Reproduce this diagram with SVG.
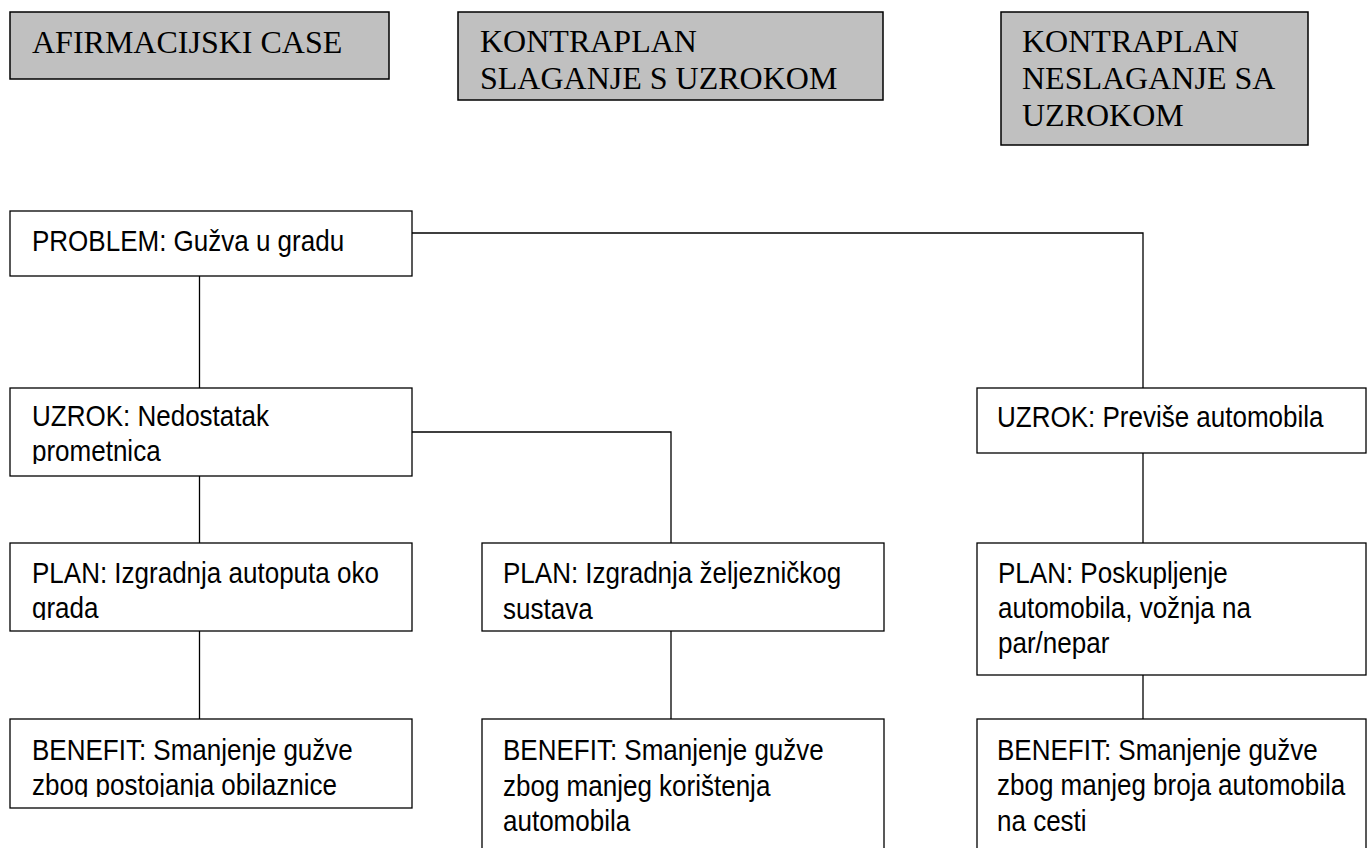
<svg xmlns="http://www.w3.org/2000/svg" width="1369" height="848" viewBox="0 0 1369 848">
  <style>
    .hdr { fill: #c0c0c0; stroke: #000; stroke-width: 1.5; }
    .box { fill: #fff; stroke: #000; stroke-width: 1.3; }
    .serif { font-family: "Liberation Serif", "Times New Roman", serif; font-size: 32px; fill: #000; }
    .sans { font-family: "Liberation Sans", Arial, sans-serif; font-size: 30px; fill: #000; }
    .conn { fill: none; stroke: #000; stroke-width: 1.3; }
  </style>
  <defs>
    <clipPath id="clipUzrok1"><rect x="10" y="388" width="402" height="76"/></clipPath>
    <clipPath id="clipPlan1"><rect x="10" y="543" width="402" height="77"/></clipPath>
    <clipPath id="clipBenefit1"><rect x="10" y="719" width="402" height="78"/></clipPath>
  </defs>
  <rect width="1369" height="848" fill="#fff"/>

  <g id="connectors">
    <polyline class="conn" points="412,233 1143,233 1143,388"/>
    <line class="conn" x1="199.5" y1="276" x2="199.5" y2="388"/>
    <polyline class="conn" points="412,432 671,432 671,543"/>
    <line class="conn" x1="199.5" y1="476" x2="199.5" y2="543"/>
    <line class="conn" x1="199.5" y1="631" x2="199.5" y2="719"/>
    <line class="conn" x1="671" y1="631" x2="671" y2="719"/>
    <line class="conn" x1="1143" y1="453" x2="1143" y2="543"/>
    <line class="conn" x1="1143" y1="675" x2="1143" y2="719"/>
  </g>

  <g id="hdr-afirmacijski">
    <rect class="hdr" x="10" y="12" width="379" height="67"/>
    <text class="serif" x="32" y="53">AFIRMACIJSKI CASE</text>
  </g>
  <g id="hdr-slaganje">
    <rect class="hdr" x="458" y="12" width="425" height="88"/>
    <text class="serif"><tspan x="480" y="52">KONTRAPLAN</tspan><tspan x="480" y="89">SLAGANJE S UZROKOM</tspan></text>
  </g>
  <g id="hdr-neslaganje">
    <rect class="hdr" x="1001" y="12" width="307" height="133"/>
    <text class="serif"><tspan x="1022" y="52">KONTRAPLAN</tspan><tspan x="1022" y="89">NESLAGANJE SA</tspan><tspan x="1022" y="126">UZROKOM</tspan></text>
  </g>

  <g id="problem">
    <rect class="box" x="10" y="211" width="402" height="65"/>
    <text class="sans" transform="translate(32 0) scale(0.867 1)"><tspan x="0" y="251">PROBLEM: Gužva u gradu</tspan></text>
  </g>

  <g id="uzrok1">
    <rect class="box" x="10" y="388" width="402" height="88"/>
    <g clip-path="url(#clipUzrok1)">
      <text class="sans" transform="translate(32 0) scale(0.867 1)"><tspan x="0" y="426">UZROK: Nedostatak</tspan><tspan x="0" y="461">prometnica</tspan></text>
    </g>
  </g>

  <g id="uzrok2">
    <rect class="box" x="977" y="388" width="389" height="65"/>
    <text class="sans" transform="translate(997 0) scale(0.867 1)"><tspan x="0" y="427">UZROK: Previše automobila</tspan></text>
  </g>

  <g id="plan1">
    <rect class="box" x="10" y="543" width="402" height="88"/>
    <g clip-path="url(#clipPlan1)">
      <text class="sans" transform="translate(32 0) scale(0.867 1)"><tspan x="0" y="583">PLAN: Izgradnja autoputa oko</tspan><tspan x="0" y="618">grada</tspan></text>
    </g>
  </g>

  <g id="plan2">
    <rect class="box" x="482" y="543" width="402" height="88"/>
    <text class="sans" transform="translate(503 0) scale(0.867 1)"><tspan x="0" y="583">PLAN: Izgradnja željezničkog</tspan><tspan x="0" y="619">sustava</tspan></text>
  </g>

  <g id="plan3">
    <rect class="box" x="977" y="543" width="389" height="132"/>
    <text class="sans" transform="translate(998 0) scale(0.867 1)"><tspan x="0" y="583">PLAN: Poskupljenje</tspan><tspan x="0" y="618">automobila, vožnja na</tspan><tspan x="0" y="653">par/nepar</tspan></text>
  </g>

  <g id="benefit1">
    <rect class="box" x="10" y="719" width="402" height="89"/>
    <g clip-path="url(#clipBenefit1)">
      <text class="sans" transform="translate(32 0) scale(0.867 1)"><tspan x="0" y="760">BENEFIT: Smanjenje gužve</tspan><tspan x="0" y="795">zbog postojanja obilaznice</tspan></text>
    </g>
  </g>

  <g id="benefit2">
    <rect class="box" x="482" y="719" width="402" height="145"/>
    <text class="sans" transform="translate(503 0) scale(0.867 1)"><tspan x="0" y="760">BENEFIT: Smanjenje gužve</tspan><tspan x="0" y="796">zbog manjeg korištenja</tspan><tspan x="0" y="831">automobila</tspan></text>
  </g>

  <g id="benefit3">
    <rect class="box" x="977" y="719" width="389" height="145"/>
    <text class="sans" transform="translate(997 0) scale(0.867 1)"><tspan x="0" y="760">BENEFIT: Smanjenje gužve</tspan><tspan x="0" y="795">zbog manjeg broja automobila</tspan><tspan x="0" y="831">na cesti</tspan></text>
  </g>
</svg>
